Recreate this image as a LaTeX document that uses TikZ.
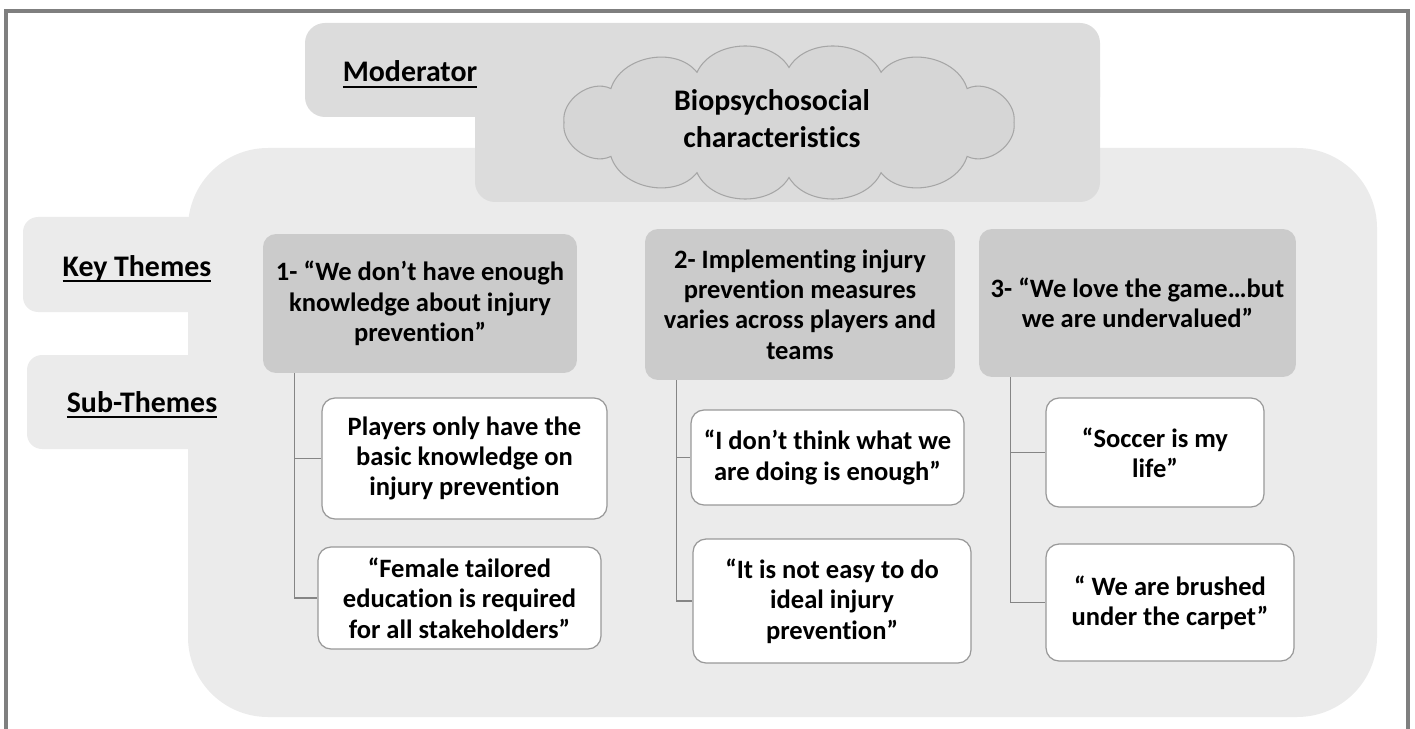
\documentclass[tikz,border=0pt]{standalone}
\usepackage{fontspec}
\setmainfont{Carlito}[Ligatures=NoCommon]
\usetikzlibrary{calc}
\definecolor{framegray}{HTML}{7F7F7F}
\definecolor{panelgray}{HTML}{EBEBEB}
\definecolor{modgray}{HTML}{DCDCDC}
\definecolor{keygray}{HTML}{CBCBCB}
\definecolor{cloudgray}{HTML}{D6D6D6}
\definecolor{linegray}{HTML}{858585}
\newcommand{\ulab}[1]{\vtop{\hbox{\raisebox{0pt}[\height][0pt]{#1}}\kern2.4pt\hrule height 1.1pt}}
\tikzset{
	keybox/.style={fill=keygray, rounded corners=0.26cm, align=center, inner sep=0pt},
	subbox/.style={fill=white, draw=black!40, line width=0.7pt, rounded corners=0.26cm, align=center, inner sep=0pt},
	tabtext/.style={align=center, inner sep=0pt, font=\fontsize{17}{20}\selectfont\bfseries},
	puff/.style={bend left=62},
	branch/.style={draw=linegray, line width=0.8pt}
}

\begin{document}
\begin{tikzpicture}[x=0.02cm, y=-0.02cm, font=\fontsize{15.1}{17.3}\selectfont\bfseries]
			%%%%% START %%%%%
			\useasboundingbox (0,0) rectangle (1415,729);
			\draw[framegray, line width=1.9pt] (6,745) -- (6,11) -- (1408,11) -- (1408,745);
			
			% big panel with the two tabs
			\fill[panelgray, rounded corners=1.6cm] (188,148) rectangle (1377,717);
			\fill[panelgray, rounded corners=0.3cm] (23,217) rectangle (260,312);
			\fill[panelgray, rounded corners=0.3cm] (27,355) rectangle (260,449);
			
			% moderator panel
			\fill[modgray, rounded corners=0.4cm] (305,23) rectangle (1100,117);
			\fill[modgray, rounded corners=0.4cm] (475,60) rectangle (1100,202);
			
			% cloud
			\draw[fill=cloudgray, draw=black!35, line width=0.6pt] (1014,122.5) to[puff] (967.1,156.4) to[puff] (881,172.7) to[puff] (789,177.5) to[puff] (697,172.7) to[puff] (610.9,156.4) to[puff] (564,122.5) to[puff] (610.9,88.6) to[puff] (697,72.3) to[puff] (789,67.5) to[puff] (881,72.3) to[puff] (967.1,88.6) to[puff] (1014,122.5);
			\node[tabtext, font=\fontsize{17}{21}\selectfont\bfseries] (bio) at (772,119) {Biopsychosocial\\characteristics};
			
			\node[tabtext, anchor=base] (moderator) at (410,82) {\ulab{Moderator}};
			\node[tabtext, anchor=base] (keythemes) at (137,276) {\ulab{Key Themes}};
			\node[tabtext, anchor=base] (subthemes) at (142,412) {\ulab{Sub-Themes}};
			
			% key themes
			\node[keybox, minimum width=6.28cm, minimum height=2.78cm] (k1) at (420,303.5) {1- “We don’t have enough\\knowledge about injury\\prevention”};
			\node[keybox, minimum width=6.2cm, minimum height=3.02cm] (k2) at (800,304.5) {2- Implementing injury\\prevention measures\\varies across players and\\teams};
			\node[keybox, minimum width=6.34cm, minimum height=2.96cm] (k3) at (1137.5,303) {3- “We love the game…but\\we are undervalued”};
			
			% sub themes
			\node[subbox, minimum width=5.7cm, minimum height=2.42cm] (s1a) at (464.5,458.5) {Players only have the\\basic knowledge on\\injury prevention};
			\node[subbox, minimum width=5.66cm, minimum height=2.04cm] (s1b) at (459.5,598) {“Female tailored\\education is required\\for all stakeholders”};
			\node[subbox, minimum width=5.46cm, minimum height=1.9cm] (s2a) at (827.5,457.5) {“I don’t think what we\\are doing is enough”};
			\node[subbox, minimum width=5.56cm, minimum height=2.48cm] (s2b) at (832,601) {“It is not easy to do\\ideal injury\\prevention”};
			\node[subbox, minimum width=4.36cm, minimum height=2.18cm] (s3a) at (1155,452.5) {“Soccer is my\\life”};
			\node[subbox, minimum width=4.96cm, minimum height=2.34cm] (s3b) at (1170,602.5) {“ We are brushed\\under the carpet”};
			
			\coordinate (t1) at ($(k1.south west)+(32,0)$);
			\coordinate (t2) at ($(k2.south west)+(32,0)$);
			\coordinate (t3) at ($(k3.south west)+(32,0)$);
			\draw[branch] (t1) |- (s1a.west);
			\draw[branch] (t1) |- (s1b.west);
			\draw[branch] (t2) |- (s2a.west);
			\draw[branch] (t2) |- (s2b.west);
			\draw[branch] (t3) |- (s3a.west);
			\draw[branch] (t3) |- (s3b.west);
			%%%%% END %%%%%
\end{tikzpicture}
\end{document}
